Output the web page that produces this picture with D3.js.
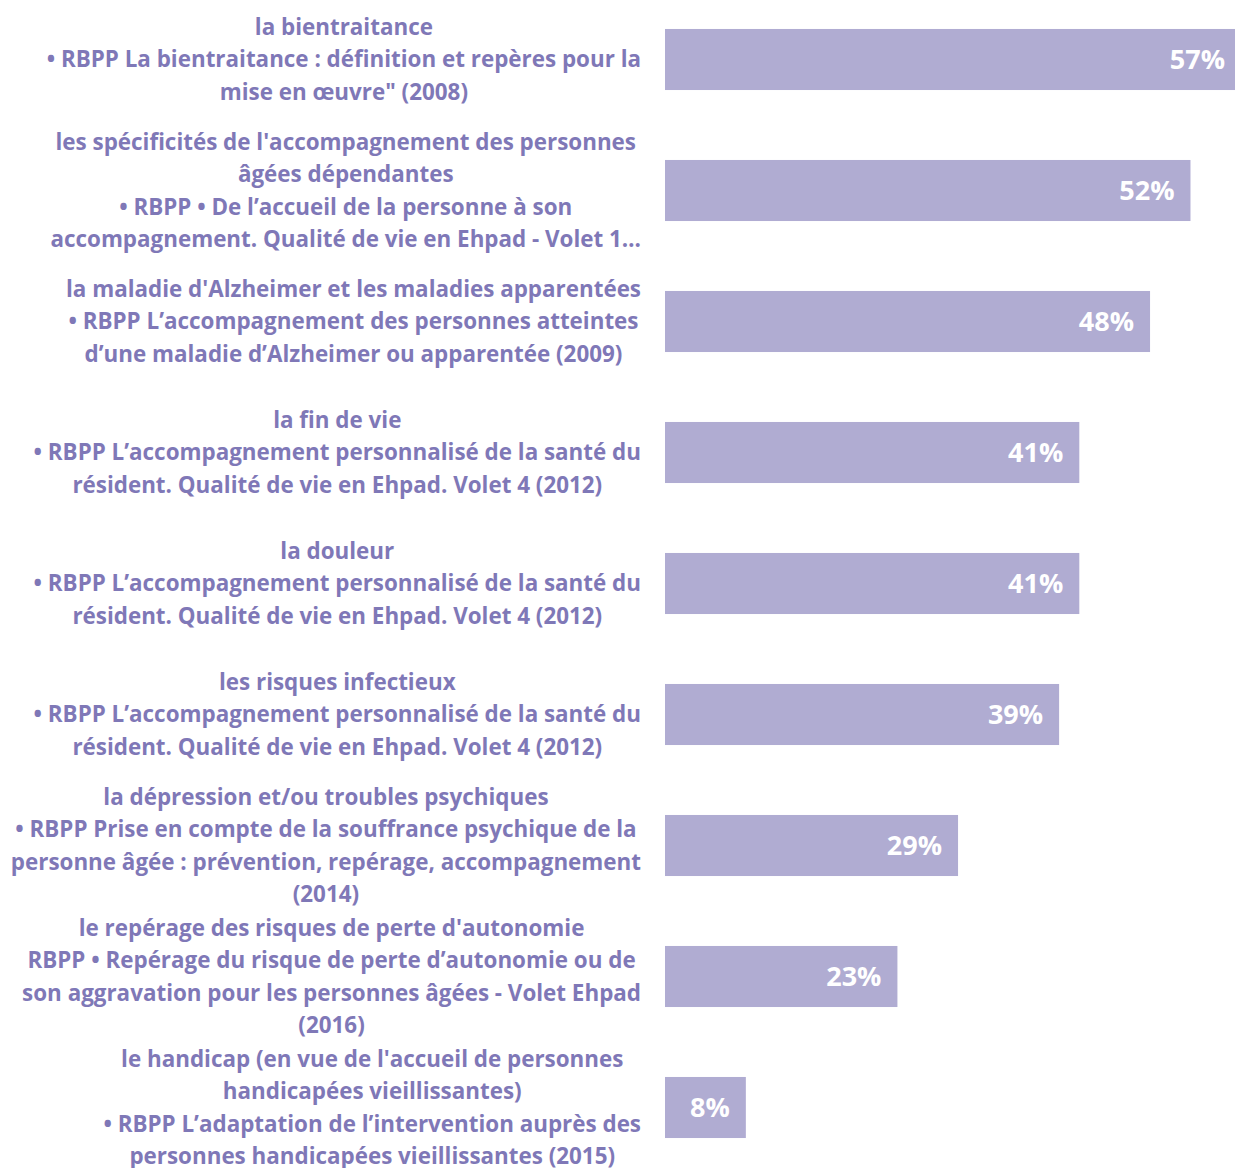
<!DOCTYPE html>
<html>
<head>
<meta charset="utf-8">
<script src="https://cdn.jsdelivr.net/npm/d3@7"></script>
<style>
  html, body { margin: 0; padding: 0; background: #ffffff; overflow: hidden; }
  svg { display: block; }
</style>
</head>
<body>
<script>
// Themes covered, each with its recommendation reference (one entry per line)
const categories = [
  ["la bientraitance",
   "• RBPP La bientraitance : définition et repères pour la",
   "mise en œuvre\" (2008)"],
  ["les spécificités de l'accompagnement des personnes",
   "âgées dépendantes",
   "• RBPP • De l’accueil de la personne à son",
   "accompagnement. Qualité de vie en Ehpad - Volet 1…"],
  ["la maladie d'Alzheimer et les maladies apparentées",
   "• RBPP L’accompagnement des personnes atteintes",
   "d’une maladie d’Alzheimer ou apparentée (2009)"],
  ["la fin de vie",
   "• RBPP L’accompagnement personnalisé de la santé du",
   "résident. Qualité de vie en Ehpad. Volet 4 (2012)"],
  ["la douleur",
   "• RBPP L’accompagnement personnalisé de la santé du",
   "résident. Qualité de vie en Ehpad. Volet 4 (2012)"],
  ["les risques infectieux",
   "• RBPP L’accompagnement personnalisé de la santé du",
   "résident. Qualité de vie en Ehpad. Volet 4 (2012)"],
  ["la dépression et/ou troubles psychiques",
   "• RBPP Prise en compte de la souffrance psychique de la",
   "personne âgée : prévention, repérage, accompagnement",
   "(2014)"],
  ["le repérage des risques de perte d'autonomie",
   "RBPP • Repérage du risque de perte d’autonomie ou de",
   "son aggravation pour les personnes âgées - Volet Ehpad",
   "(2016)"],
  ["le handicap (en vue de l'accueil de personnes",
   "handicapées vieillissantes)",
   "• RBPP L’adaptation de l’intervention auprès des",
   "personnes handicapées vieillissantes (2015)"]
];

// Share of respondents (%)
const values = [57, 52, 48, 41, 41, 39, 29, 23, 8];

const W = 1235, H = 1168;
const barColor = "#b0acd2";
const textColor = "#7f78b7";
const fontFamily = "'Open Sans', Lato, sans-serif";

const svg = d3.select("body").append("svg")
  .attr("width", W).attr("height", H);

const idx = d3.range(values.length);

const y = d3.scaleBand()
  .domain(idx)
  .range([-6, -6 + 131 * values.length])
  .paddingInner(0.534)
  .paddingOuter(0.267);

const x = d3.scaleLinear()
  .domain([0, 57])
  .range([665, 1241]);

// Bars
svg.append("g").selectAll("rect")
  .data(idx)
  .join("rect")
  .attr("x", x(0))
  .attr("y", i => y(i))
  .attr("width", i => x(values[i]) - x(0))
  .attr("height", y.bandwidth())
  .attr("fill", barColor);

// Value labels inside the bar ends
svg.append("g").selectAll("text")
  .data(idx)
  .join("text")
  .attr("x", i => x(values[i]) - 16)
  .attr("y", i => y(i) + y.bandwidth() / 2)
  .attr("dy", "0.36em")
  .attr("text-anchor", "end")
  .attr("fill", "#ffffff")
  .style("font-family", fontFamily)
  .style("font-weight", 700)
  .style("font-size", "27px")
  .text(i => values[i] + "%");

// Category labels: widest line right-aligned near the bars, others centred on it
const lineH = 32.4;
const labelRight = 641;
const labelG = svg.append("g");

idx.forEach(i => {
  const lines = categories[i];
  const cy = y(i) + y.bandwidth() / 2;
  const g = labelG.append("g");
  const texts = g.selectAll("text")
    .data(lines)
    .join("text")
    .attr("y", (d, k) => cy + (k - (lines.length - 1) / 2) * lineH)
    .attr("dy", "0.35em")
    .attr("text-anchor", "middle")
    .attr("fill", textColor)
    .style("font-family", fontFamily)
    .style("font-weight", 700)
    .style("font-size", "22.4px")
    .text(d => d);
  const maxW = d3.max(texts.nodes(), n => n.getComputedTextLength());
  texts.attr("x", labelRight - maxW / 2);
});
</script>
</body>
</html>
